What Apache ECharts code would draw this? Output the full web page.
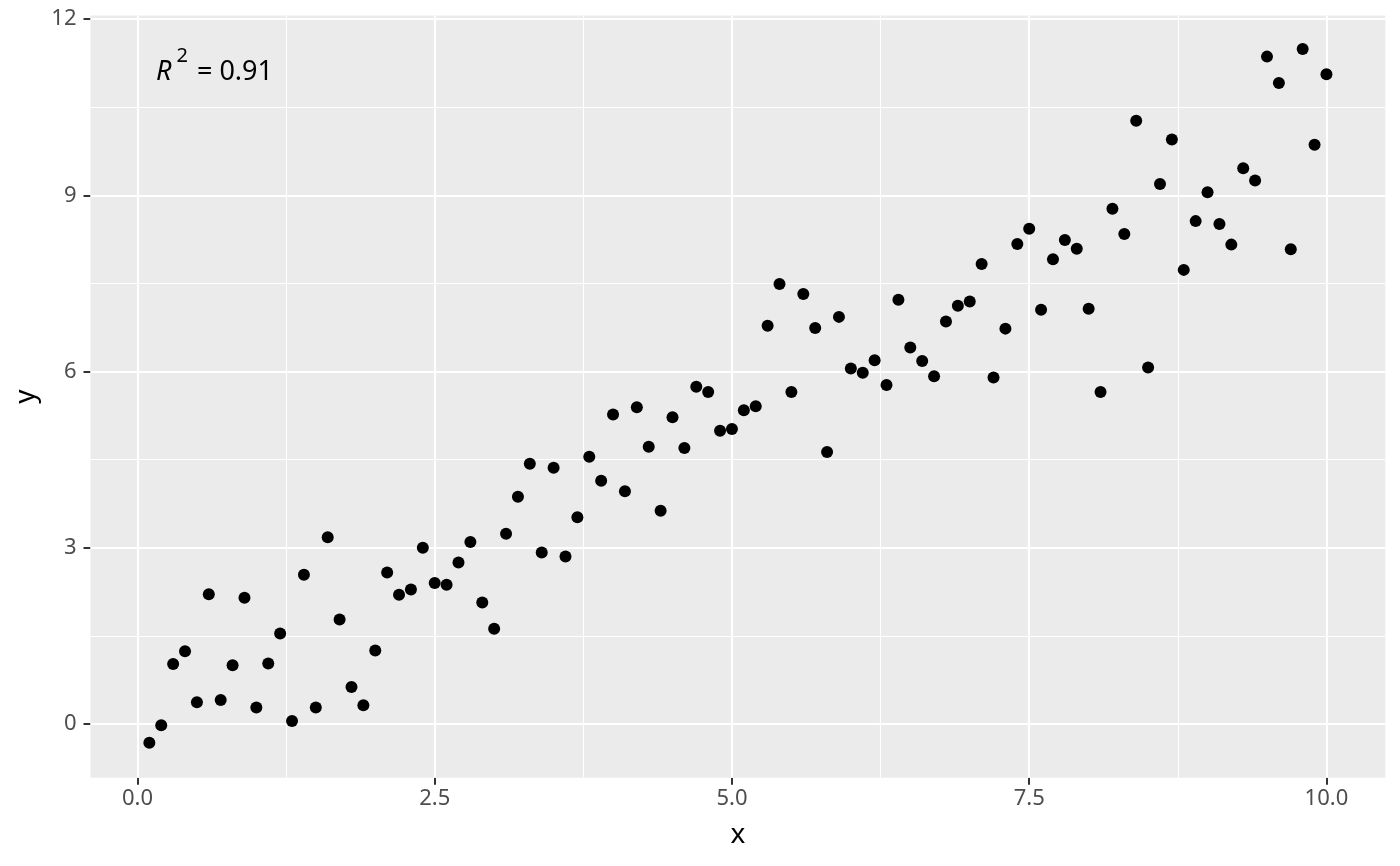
<!DOCTYPE html>
<html>
<head>
<meta charset="utf-8">
<script src="https://cdn.jsdelivr.net/npm/echarts@6/dist/echarts.min.js"></script>
<style>
html,body{margin:0;padding:0;background:#fff;}
#chart{width:1400px;height:866px;}
</style>
</head>
<body>
<div id="chart"></div>
<script>
// ---- data ----
var xValues = [
  0.1,0.2,0.3,0.4,0.5,0.6,0.7,0.8,0.9,1.0,
  1.1,1.2,1.3,1.4,1.5,1.6,1.7,1.8,1.9,2.0,
  2.1,2.2,2.3,2.4,2.5,2.6,2.7,2.8,2.9,3.0,
  3.1,3.2,3.3,3.4,3.5,3.6,3.7,3.8,3.9,4.0,
  4.1,4.2,4.3,4.4,4.5,4.6,4.7,4.8,4.9,5.0,
  5.1,5.2,5.3,5.4,5.5,5.6,5.7,5.8,5.9,6.0,
  6.1,6.2,6.3,6.4,6.5,6.6,6.7,6.8,6.9,7.0,
  7.1,7.2,7.3,7.4,7.5,7.6,7.7,7.8,7.9,8.0,
  8.1,8.2,8.3,8.4,8.5,8.6,8.7,8.8,8.9,9.0,
  9.1,9.2,9.3,9.4,9.5,9.6,9.7,9.8,9.9,10.0
];
var yValues = [
  -0.32,-0.02,1.02,1.24,0.37,2.21,0.41,1.00,2.15,0.28,
  1.03,1.54,0.05,2.54,0.28,3.18,1.78,0.63,0.32,1.25,
  2.58,2.20,2.29,3.00,2.40,2.37,2.75,3.10,2.07,1.62,
  3.24,3.87,4.43,2.92,4.36,2.85,3.52,4.55,4.14,5.27,
  3.96,5.39,4.72,3.63,5.22,4.70,5.74,5.65,4.99,5.02,
  5.34,5.41,6.78,7.49,5.65,7.32,6.74,4.63,6.93,6.05,
  5.98,6.19,5.77,7.22,6.41,6.18,5.92,6.85,7.12,7.19,
  7.83,5.90,6.73,8.17,8.43,7.05,7.91,8.24,8.09,7.07,
  5.65,8.77,8.34,10.27,6.07,9.19,9.95,7.73,8.56,9.05,
  8.51,8.16,9.46,9.25,11.36,10.91,8.08,11.49,9.86,11.06
];
var xTicks = [0, 2.5, 5, 7.5, 10];
var xMinor = [1.25, 3.75, 6.25, 8.75];
var yTicks = [0, 3, 6, 9, 12];
var yMinor = [1.5, 4.5, 7.5, 10.5];
var xRange = [-0.395, 10.495];
var yRange = [-0.914, 12.06];
var annotationText = ['R', '2', ' = 0.91'];

// ---- build ----
var FONT = 'Noto Sans';
var points = xValues.map(function (x, i) { return [x, yValues[i]]; });

var gridLines = [];
xMinor.forEach(function (v) { gridLines.push({ xAxis: v, lineStyle: { width: 1.1 } }); });
yMinor.forEach(function (v) { gridLines.push({ yAxis: v, lineStyle: { width: 1.1 } }); });
xTicks.forEach(function (v) { gridLines.push({ xAxis: v, lineStyle: { width: 2.1 } }); });
yTicks.forEach(function (v) { gridLines.push({ yAxis: v, lineStyle: { width: 2.1 } }); });

var chart = echarts.init(document.getElementById('chart'), null, { renderer: 'canvas' });
chart.setOption({
  animation: false,
  backgroundColor: '#ffffff',
  textStyle: { fontFamily: FONT },
  grid: {
    left: 90.5, right: 14.7, top: 15.5, bottom: 88.3,
    show: true, backgroundColor: '#EBEBEB', borderWidth: 0
  },
  xAxis: {
    type: 'value',
    min: xRange[0], max: xRange[1],
    splitLine: { show: false },
    axisLine: { show: false, onZero: false },
    axisTick: { show: true, customValues: xTicks, length: 7, lineStyle: { color: '#333333', width: 2 } },
    axisLabel: {
      customValues: xTicks, color: '#4D4D4D', fontSize: 22, fontFamily: FONT, margin: 10,
      formatter: function (v) { return v.toFixed(1); }
    },
    name: 'x', nameLocation: 'middle', nameGap: 43,
    nameTextStyle: { color: '#000000', fontSize: 28, fontFamily: FONT }
  },
  yAxis: {
    type: 'value',
    min: yRange[0], max: yRange[1],
    splitLine: { show: false },
    axisLine: { show: false, onZero: false },
    axisTick: { show: true, customValues: yTicks, length: 7, lineStyle: { color: '#333333', width: 2 } },
    axisLabel: {
      customValues: yTicks, color: '#4D4D4D', fontSize: 22, fontFamily: FONT, margin: 14,
      formatter: function (v) { return String(Math.round(v)); }
    },
    name: 'y', nameLocation: 'middle', nameGap: 45,
    nameTextStyle: { color: '#000000', fontSize: 28, fontFamily: FONT }
  },
  series: [
    {
      type: 'scatter', data: [], z: 1, silent: true,
      markLine: {
        silent: true, z: 1, symbol: ['none', 'none'], animation: false,
        label: { show: false },
        lineStyle: { color: '#FFFFFF', type: 'solid', width: 2 },
        emphasis: { disabled: true },
        data: gridLines
      }
    },
    {
      type: 'scatter', z: 10, data: points, symbol: 'circle', symbolSize: 12,
      itemStyle: { color: '#000000', opacity: 1 },
      emphasis: { disabled: true }
    }
  ],
  graphic: [{
    type: 'text', x: 156, y: 86, silent: true,
    style: {
      text: '{r|' + annotationText[0] + '}{s|' + annotationText[1] + '}{t|' + annotationText[2] + '}',
      verticalAlign: 'bottom', align: 'left',
      rich: {
        r: { fontFamily: FONT, fontSize: 27, fontStyle: 'italic', fill: '#000', verticalAlign: 'bottom' },
        s: { fontFamily: FONT, fontSize: 20, fill: '#000', verticalAlign: 'bottom', padding: [0, 2, 20, 5] },
        t: { fontFamily: FONT, fontSize: 27, fill: '#000', verticalAlign: 'bottom' }
      }
    }
  }]
});
</script>
</body>
</html>
